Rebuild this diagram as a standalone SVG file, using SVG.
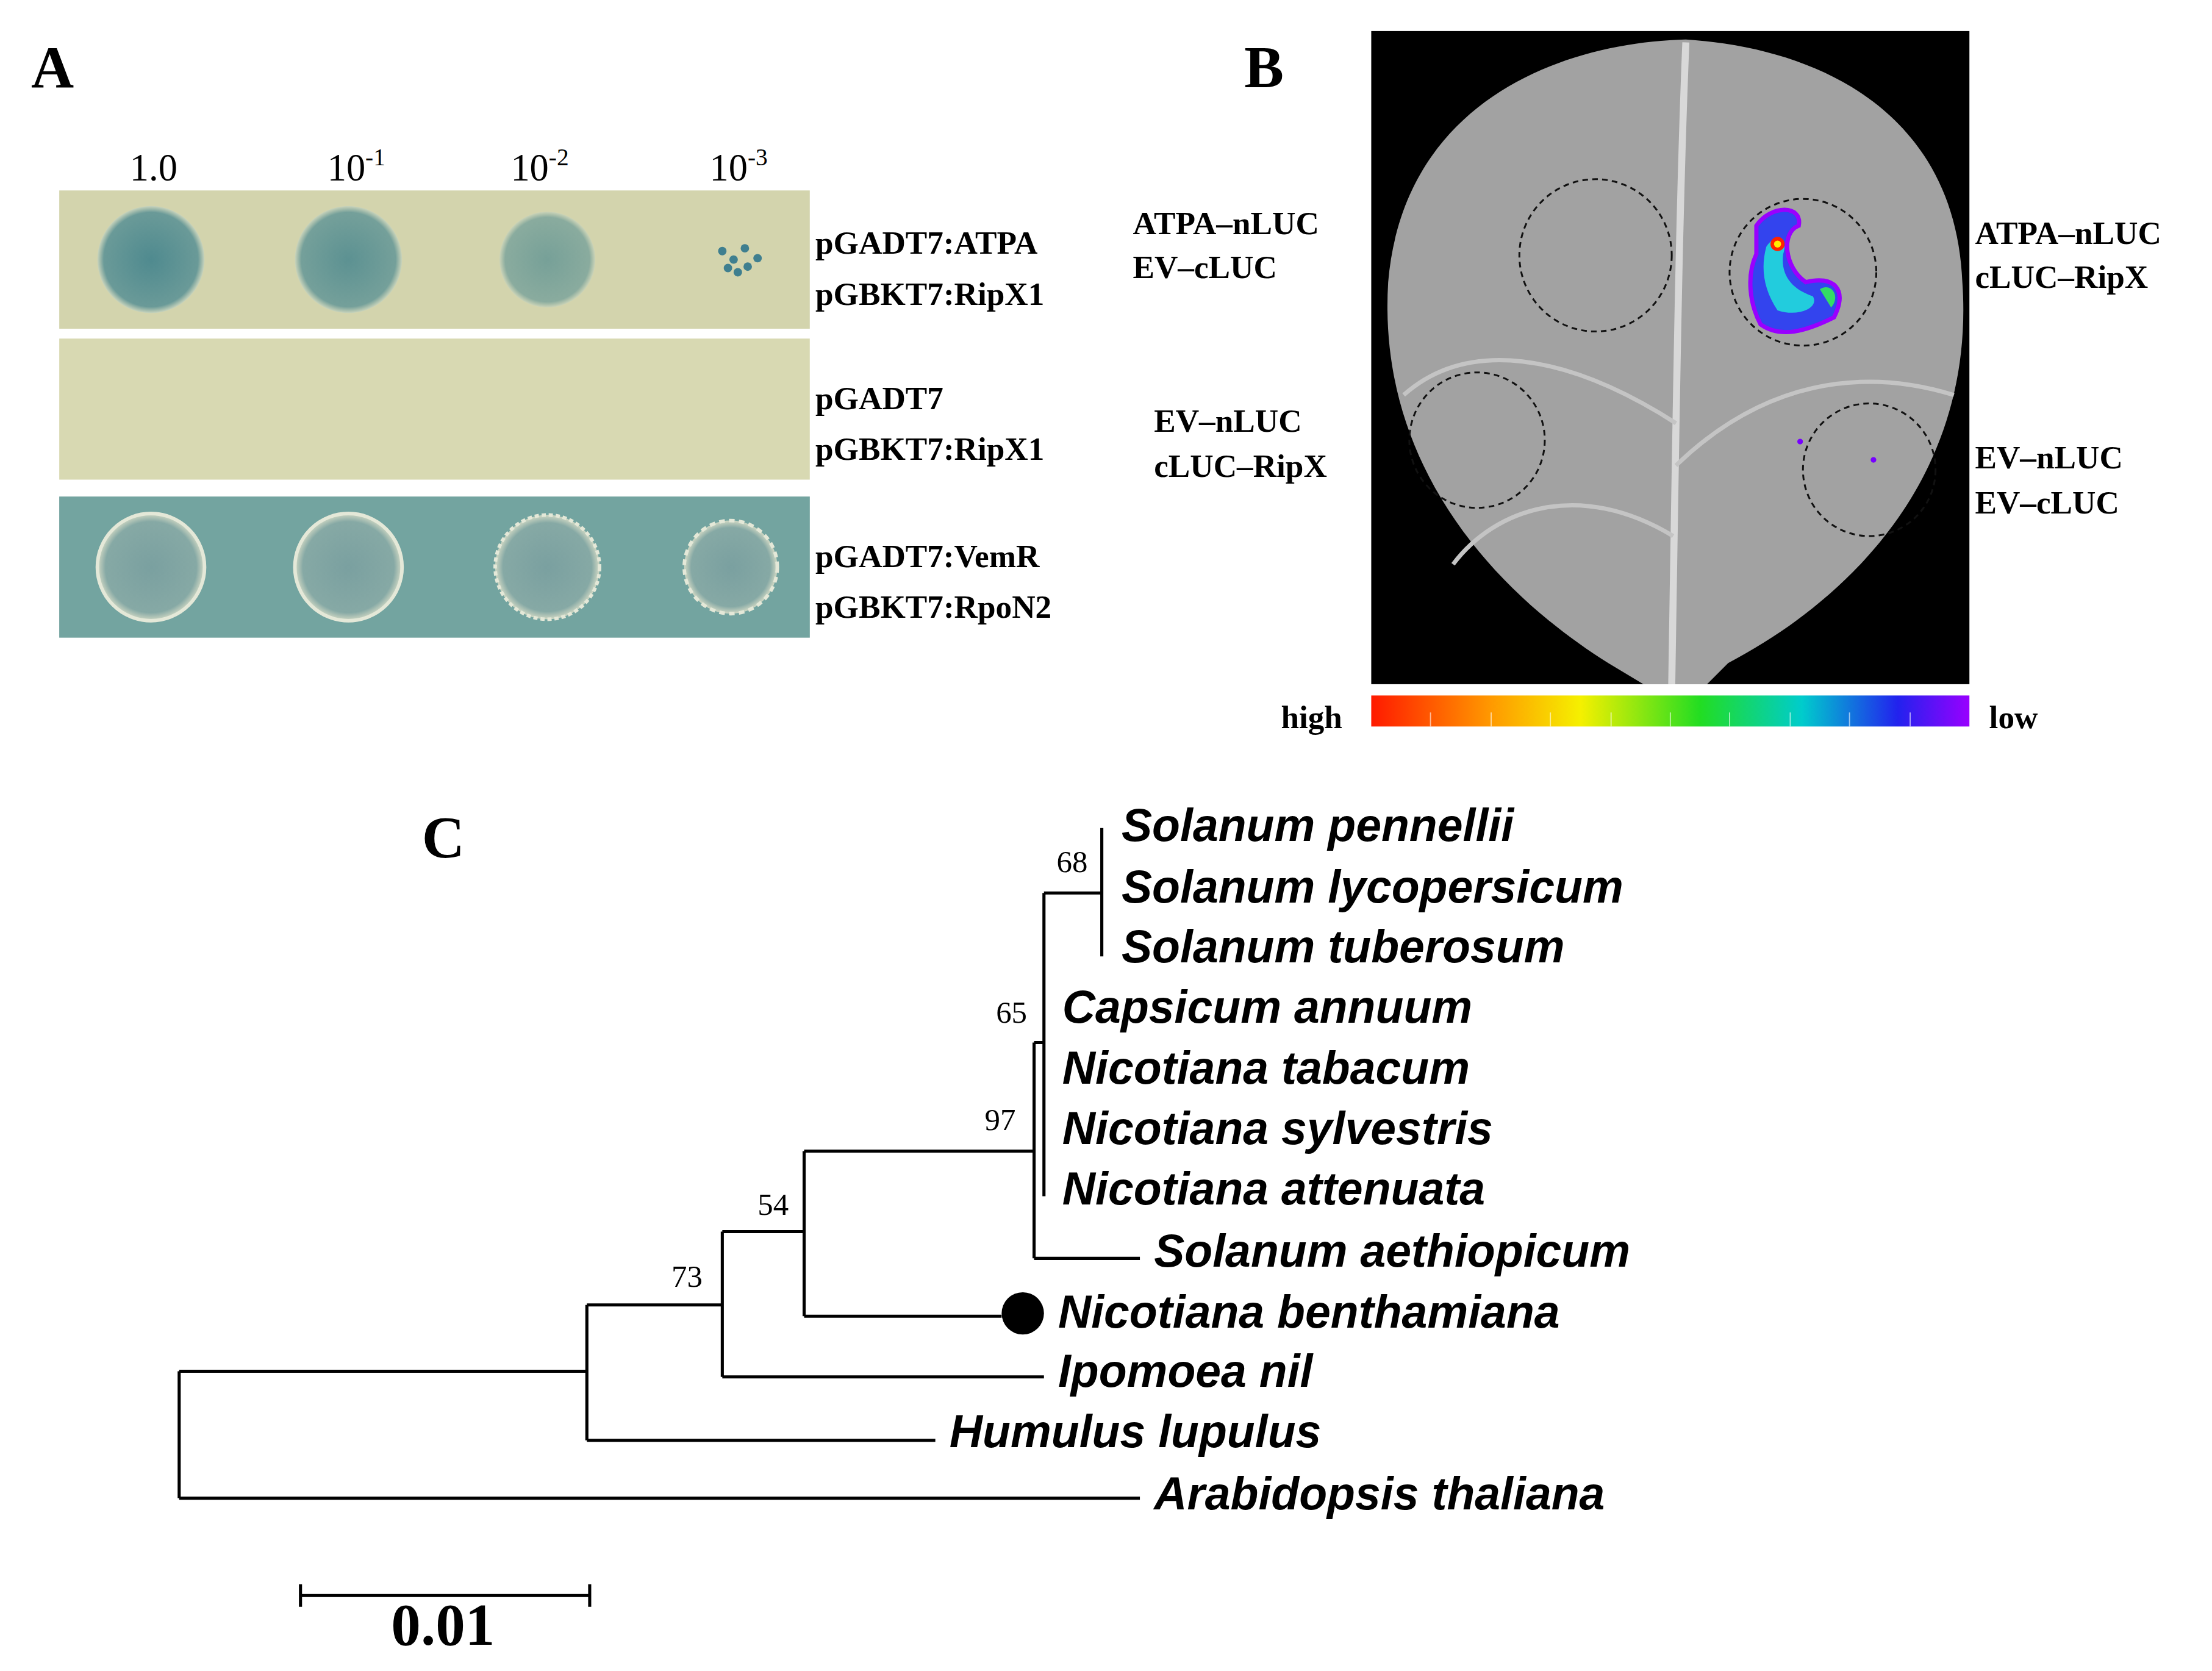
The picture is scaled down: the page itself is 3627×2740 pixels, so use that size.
<svg xmlns="http://www.w3.org/2000/svg" width="3627" height="2740" viewBox="0 0 3627 2740">
<style>
.pl{font-family:"Liberation Serif",serif;font-weight:bold;font-size:42px;fill:#000}
.lab{font-family:"Liberation Serif",serif;font-weight:bold;font-size:23px;fill:#000}
.col{font-family:"Liberation Serif",serif;font-size:27px;fill:#000}
.sp{font-family:"Liberation Sans",sans-serif;font-weight:bold;font-style:italic;font-size:32.5px;fill:#000}
.bs{font-family:"Liberation Serif",serif;font-size:22px;fill:#000}
.br{stroke:#000;stroke-width:2.2;fill:none}
.dc{fill:none;stroke:#111;stroke-width:1.3;stroke-dasharray:4 3}
</style>
<defs>
<linearGradient id="cb" x1="0" x2="1" y1="0" y2="0">
<stop offset="0" stop-color="#ff1a00"/><stop offset="0.2" stop-color="#ff9900"/><stop offset="0.35" stop-color="#f5f000"/><stop offset="0.55" stop-color="#22dd22"/><stop offset="0.72" stop-color="#00cccc"/><stop offset="0.88" stop-color="#2222ee"/><stop offset="1" stop-color="#9900ff"/>
</linearGradient>
<radialGradient id="sp1"><stop offset="0" stop-color="#4f8a8f"/><stop offset="0.88" stop-color="#6a9a98"/><stop offset="1" stop-color="#c9d4bc"/></radialGradient>
<radialGradient id="sp3"><stop offset="0" stop-color="#7aa0a0"/><stop offset="0.85" stop-color="#86a9a5"/><stop offset="1" stop-color="#d0d8c4"/></radialGradient>
</defs>
<rect width="3627" height="2740" fill="#fff"/>
<g transform="scale(2.3132)">
<g id="panelA">
<text class="pl" x="22" y="62">A</text>
<text class="col" x="92" y="128">1.0</text>
<text class="col" x="232" y="128">10<tspan font-size="17" dy="-11">-1</tspan></text>
<text class="col" x="362" y="128">10<tspan font-size="17" dy="-11">-2</tspan></text>
<text class="col" x="503" y="128">10<tspan font-size="17" dy="-11">-3</tspan></text>
<rect x="42" y="135" width="532" height="98" fill="#d3d4ad"/>
<rect x="42" y="240" width="532" height="100" fill="#d8d9b2"/>
<rect x="42" y="352" width="532" height="100" fill="#7fa9a3"/>
<rect x="42" y="352" width="532" height="100" fill="#5f9a9c" opacity="0.35"/>
<circle cx="107" cy="184" r="38" fill="url(#sp1)"/>
<circle cx="247" cy="184" r="38" fill="url(#sp1)" opacity="0.9"/>
<circle cx="388" cy="184" r="34" fill="url(#sp1)" opacity="0.7"/>
<g fill="#3f7f8f"><circle cx="512" cy="178" r="3"/><circle cx="520" cy="184" r="3"/><circle cx="528" cy="176" r="3"/><circle cx="516" cy="190" r="3"/><circle cx="530" cy="189" r="3"/><circle cx="523" cy="193" r="3"/><circle cx="537" cy="183" r="3"/></g>
<g stroke="#e4e8d8" stroke-width="2.5">
<circle cx="107" cy="402" r="38" fill="url(#sp3)"/>
<circle cx="247" cy="402" r="38" fill="url(#sp3)"/>
<circle cx="388" cy="402" r="37" fill="url(#sp3)" stroke-dasharray="3 2"/>
<circle cx="518" cy="402" r="33" fill="url(#sp3)" stroke-dasharray="4 3"/>
</g>
<text class="lab" x="578" y="180">pGADT7:ATPA</text>
<text class="lab" x="578" y="216">pGBKT7:RipX1</text>
<text class="lab" x="578" y="290">pGADT7</text>
<text class="lab" x="578" y="326">pGBKT7:RipX1</text>
<text class="lab" x="578" y="402">pGADT7:VemR</text>
<text class="lab" x="578" y="438">pGBKT7:RpoN2</text>
</g>
<g id="panelB">
<text class="pl" x="882" y="62">B</text>
<rect x="972" y="22" width="424" height="463" fill="#000"/>
<path d="M1195,28 C1110,30 995,70 984,200 C976,330 1060,420 1140,470 L1165,485 L1210,485 L1225,470 C1320,420 1400,330 1391,200 C1386,80 1290,34 1195,28 Z" fill="#a2a2a2"/>
<path d="M1195,30 C1190,150 1188,300 1185,485" stroke="#d8d8d8" stroke-width="5" fill="none"/>
<path d="M1188,300 C1110,250 1040,240 995,280 M1188,330 C1250,270 1320,260 1385,280 M1186,380 C1120,340 1060,360 1030,400" stroke="#c4c4c4" stroke-width="3" fill="none"/>
<circle class="dc" cx="1131" cy="181" r="54"/>
<circle class="dc" cx="1278" cy="193" r="52"/>
<circle class="dc" cx="1047" cy="312" r="48"/>
<circle class="dc" cx="1325" cy="333" r="47"/>
<path d="M1245,160 C1255,145 1278,145 1275,160 C1262,165 1265,190 1280,200 C1300,195 1310,205 1300,225 C1280,235 1262,240 1248,230 C1240,215 1238,195 1245,180 Z" fill="#3344ee"/>
<path d="M1252,175 C1258,165 1268,168 1264,180 C1262,195 1270,205 1285,210 C1290,218 1275,225 1260,220 C1250,205 1248,190 1252,175 Z" fill="#22ccdd"/>
<path d="M1290,205 C1298,200 1305,210 1298,218 Z" fill="#33dd66"/>
<circle cx="1260" cy="173" r="5" fill="#ff2200"/>
<circle cx="1260" cy="173" r="2.5" fill="#ffee00"/>
<path d="M1245,160 C1255,145 1278,145 1275,160 C1262,165 1265,190 1280,200 C1300,195 1310,205 1300,225 C1280,235 1262,240 1248,230 C1240,215 1238,195 1245,180 Z" fill="none" stroke="#9900ff" stroke-width="3"/>
<circle cx="1276" cy="313" r="2" fill="#7700ff"/><circle cx="1328" cy="326" r="2" fill="#7700ff"/>
<text class="lab" x="803" y="166">ATPA–nLUC</text>
<text class="lab" x="803" y="197">EV–cLUC</text>
<text class="lab" x="818" y="306">EV–nLUC</text>
<text class="lab" x="818" y="338">cLUC–RipX</text>
<text class="lab" x="1400" y="173">ATPA–nLUC</text>
<text class="lab" x="1400" y="204">cLUC–RipX</text>
<text class="lab" x="1400" y="332">EV–nLUC</text>
<text class="lab" x="1400" y="364">EV–cLUC</text>
<rect x="972" y="493" width="424" height="22" fill="url(#cb)"/>
<g stroke="#fff" stroke-width="0.8" opacity="0.6"><path d="M1014,505v10M1057,505v10M1099,505v10M1142,505v10M1184,505v10M1226,505v10M1269,505v10M1311,505v10M1354,505v10"/></g>
<text class="lab" x="908" y="516" font-size="19">high</text>
<text class="lab" x="1410" y="516" font-size="19">low</text>
</g>
<g id="panelC">
<text class="pl" x="299" y="608">C</text>
<g id="connectors" class="br">
<path d="M781,587V678M740,633H781M740,633V848M733,739H740M733,739V892M733,892H808M570,816H733M570,816V933M570,933H710M512,873H570M512,873V976M512,976H740M416,925H512M416,925V1021M416,1021H663M127,972H416M127,972V1062M127,1062H808"/>
<path d="M213,1131H418M213,1123V1139M418,1123V1139"/>
</g>
<circle cx="725" cy="931" r="15" fill="#000"/>
<text class="sp" x="795" y="596">Solanum pennellii</text>
<text class="sp" x="795" y="640">Solanum lycopersicum</text>
<text class="sp" x="795" y="682">Solanum tuberosum</text>
<text class="sp" x="753" y="725">Capsicum annuum</text>
<text class="sp" x="753" y="768">Nicotiana tabacum</text>
<text class="sp" x="753" y="811">Nicotiana sylvestris</text>
<text class="sp" x="753" y="854">Nicotiana attenuata</text>
<text class="sp" x="818" y="898">Solanum aethiopicum</text>
<text class="sp" x="750" y="941">Nicotiana benthamiana</text>
<text class="sp" x="750" y="983">Ipomoea nil</text>
<text class="sp" x="673" y="1026">Humulus lupulus</text>
<text class="sp" x="818" y="1070">Arabidopsis thaliana</text>
<g class="bs" text-anchor="middle">
<text x="760" y="618">68</text><text x="717" y="725">65</text><text x="709" y="801">97</text><text x="548" y="861">54</text><text x="487" y="912">73</text>
</g>
<text class="pl" x="314" y="1166" font-size="28" text-anchor="middle">0.01</text>
</g>
</g>
</svg>
